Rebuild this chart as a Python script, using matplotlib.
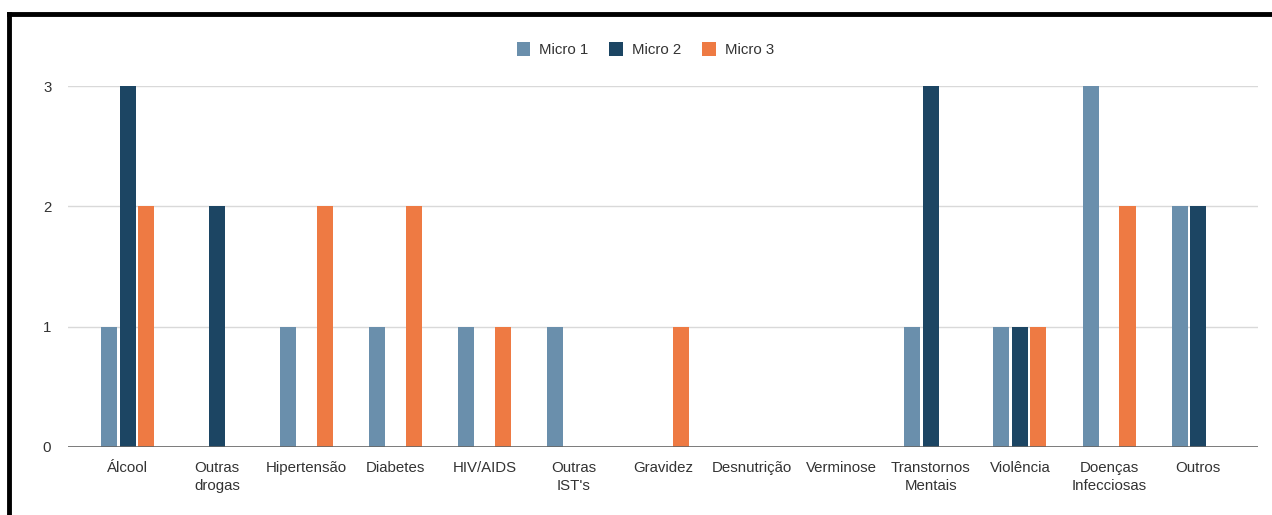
import numpy as np
import matplotlib.pyplot as plt
from matplotlib.lines import Line2D

plt.rcParams['font.family'] = ['Liberation Sans', 'DejaVu Sans']

categories = ["Álcool", "Outras\ndrogas", "Hipertensão", "Diabetes", "HIV/AIDS",
              "Outras\nIST's", "Gravidez", "Desnutrição", "Verminose",
              "Transtornos\nMentais", "Violência", "Doenças\nInfecciosas", "Outros"]
micro1 = [1, 0, 1, 1, 1, 1, 0, 0, 0, 1, 1, 3, 2]
micro2 = [3, 2, 0, 0, 0, 0, 0, 0, 0, 3, 1, 0, 2]
micro3 = [2, 0, 2, 2, 1, 0, 1, 0, 0, 0, 1, 2, 0]
series_names = ["Micro 1", "Micro 2", "Micro 3"]
colors = ["#6a8fac", "#1c4563", "#ee7a43"]

fig = plt.figure(figsize=(12.72, 5.15), dpi=100)
ax = fig.add_axes([68 / 1272, 68 / 515, 1190 / 1272, 361 / 515])

x = np.arange(len(categories))
width = 0.18
offset = 0.207
for i, (vals, name, c) in enumerate(zip([micro1, micro2, micro3], series_names, colors)):
    ax.bar(x + (i - 1) * offset, vals, width, color=c, label=name, zorder=3)

ax.set_xlim(-0.67, len(categories) - 0.33)
ax.set_ylim(0, 3)
ax.set_yticks([0, 1, 2, 3])
ax.set_xticks(x)
ax.set_xticklabels(categories, fontsize=10.8, color="#333333", linespacing=1.35)
ax.tick_params(axis='y', labelsize=10.8, labelcolor="#333333", length=0, pad=12)
ax.tick_params(axis='x', length=0, pad=10)
ax.grid(axis='y', color="#d9d9d9", linewidth=1, zorder=0)
ax.axhline(0, color="#666666", linewidth=1.2, zorder=4)
for s in ax.spines.values():
    s.set_visible(False)

ax.legend(loc='center', bbox_to_anchor=(0.485, 1.10), ncol=3,
          frameon=False, fontsize=10.8, handlelength=0.9, handleheight=1.0,
          columnspacing=1.4, handletextpad=0.6, labelcolor="#333333",
          bbox_transform=ax.transAxes)

# frame edges along top and left
fig.add_artist(Line2D([9 / 1272, 9 / 1272], [0, 1 - 14 / 515], color="black", linewidth=3.5,
                      transform=fig.transFigure, solid_capstyle='projecting'))
fig.add_artist(Line2D([9 / 1272, 1], [1 - 14 / 515, 1 - 14 / 515], color="black", linewidth=3.5,
                      transform=fig.transFigure, solid_capstyle='projecting'))

fig.savefig("out.png", dpi=100)
